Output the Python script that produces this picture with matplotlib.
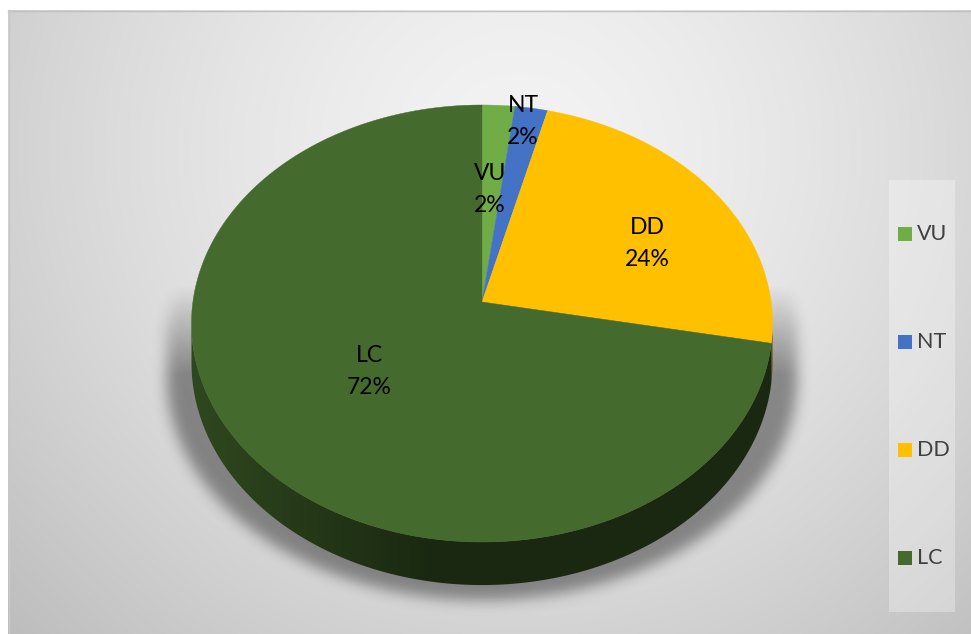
import numpy as np
import matplotlib
matplotlib.use("Agg")
import matplotlib.pyplot as plt
from matplotlib.patches import Polygon, Rectangle
from matplotlib.path import Path

categories = ["VU", "NT", "DD", "LC"]
shares = [2, 2, 24, 72]
colors = ["#70ad47", "#4472c4", "#ffc000", "#456a2d"]

# where each data label sits (pixel space, centre of the two lines)
label_xy = {"VU": (490, 189), "NT": (523, 121.5), "DD": (647, 244), "LC": (369, 372)}

W, H = 971, 634
CX, CY = 482, 302          # apex of the pie
A, B, K = 289.1, 216.4, 0.0984   # rim radii + perspective strength
DEPTH = 38.8

plt.rcParams["font.family"] = ["Lato", "DejaVu Sans"]


def project(theta, r=1.0, drop=0.0):
    u = r * np.sin(theta)
    v = r * np.cos(theta)
    s = 1.0 / (1.0 + K * v)
    return CX + A * u * s, CY - B * v * s + drop * s


def blur(img, sigma):
    rad = int(3 * sigma)
    k = np.exp(-0.5 * (np.arange(-rad, rad + 1) / sigma) ** 2)
    k /= k.sum()
    img = np.apply_along_axis(lambda r: np.convolve(r, k, mode="same"), 1, img)
    img = np.apply_along_axis(lambda c: np.convolve(c, k, mode="same"), 0, img)
    return img


fig = plt.figure(figsize=(W / 100, H / 100), dpi=100)
ax = fig.add_axes([0, 0, 1, 1])
ax.set_xlim(0, W)
ax.set_ylim(H, 0)
ax.axis("off")

# grey radial backdrop
yy, xx = np.mgrid[0:H, 0:W] + 0.5
rr = np.sqrt(((xx - 520) / 640) ** 2 + ((yy - 150) / 620) ** 2)
bg = (243 - 46 * np.clip(rr, 0, 1.3) ** 1.5) / 255
ax.imshow(np.dstack([bg, bg, bg]), extent=(0, W, H, 0), zorder=0, aspect="auto")
ax.add_patch(Rectangle((0, 0), W, 10, facecolor="white", edgecolor="none", zorder=1))
ax.add_patch(Rectangle((0, 0), 8, H, facecolor="white", edgecolor="none", zorder=1))
ax.plot([8, W], [10.5, 10.5], color="#bfbfbf", lw=1, zorder=1)
ax.plot([8.5, 8.5], [10, H], color="#c8c8c8", lw=1, zorder=1)

total = sum(shares)
edges = np.concatenate([[0], np.cumsum(shares)]) / total * 2 * np.pi
th_r = np.arccos(-K)
th_l = 2 * np.pi - th_r

# drop shadow under the pie
ts_back = np.linspace(th_l - 2 * np.pi, th_r, 200)
ts_front = np.linspace(th_r, th_l, 200)
sil = [project(t) for t in ts_back] + [project(t, drop=DEPTH) for t in ts_front]
sil = np.array(sil)
sil[:, 0] = CX + (sil[:, 0] - CX) * 1.085
sil[:, 1] += 15
mask = Path(sil).contains_points(np.c_[xx.ravel(), yy.ravel()]).reshape(H, W)
soft = blur(mask.astype(float), 7)
ramp = np.clip((yy - 285) / 90, 0, 1)
shadow = np.zeros((H, W, 4))
shadow[..., 3] = 0.4 * soft * ramp
ax.imshow(shadow, extent=(0, W, H, 0), zorder=2, aspect="auto")

# side walls, shaded darker towards the right
shade = np.interp(np.arange(W) + 0.5, [192, 430], [0.68, 0.38])
for i, c in enumerate(colors):
    a0, a1 = max(edges[i], th_r), min(edges[i + 1], th_l)
    if a1 <= a0:
        continue
    ts = np.linspace(a0, a1, 200)
    top = [project(t) for t in ts]
    bot = [project(t, drop=DEPTH) for t in ts[::-1]]
    wall = Polygon(top + bot, closed=True, transform=ax.transData)
    rgb = np.array(matplotlib.colors.to_rgb(c))
    strip = shade[None, :, None] * rgb[None, None, :]
    im = ax.imshow(np.repeat(strip, 2, axis=0), extent=(0, W, H, 0),
                   zorder=3, aspect="auto")
    im.set_clip_path(wall)

# top faces
for i, c in enumerate(colors):
    ts = np.linspace(edges[i], edges[i + 1], max(4, int(shares[i] * 6)))
    pts = [(CX, CY)] + [project(t) for t in ts]
    ax.add_patch(Polygon(pts, closed=True, facecolor=c, edgecolor=c,
                         lw=0.3, zorder=4))

# data labels
for cat, v in zip(categories, shares):
    x, y = label_xy[cat]
    ax.text(x, y - 16, cat, ha="center", va="center", fontsize=16.5, color="black", zorder=5)
    ax.text(x, y + 16, f"{round(100 * v / total)}%", ha="center", va="center",
            fontsize=16.5, color="black", zorder=5)

# legend
ax.add_patch(Rectangle((889, 180), 66, 432, facecolor="white", alpha=0.3,
                       edgecolor="none", zorder=5))
for i, (cat, c) in enumerate(zip(categories, colors)):
    y = 180 + 54 + 108 * i
    ax.add_patch(Rectangle((898, y - 7), 14, 14, facecolor=c, edgecolor="none", zorder=6))
    ax.text(917, y, cat, ha="left", va="center", fontsize=15.5, color="#404040", zorder=6)

fig.savefig("out.png", dpi=100)
